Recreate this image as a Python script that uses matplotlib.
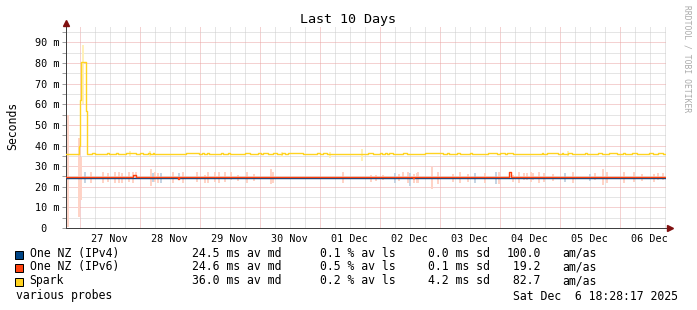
import matplotlib
matplotlib.use("Agg")
import matplotlib.pyplot as plt
import matplotlib.dates as mdates
from matplotlib.ticker import MultipleLocator, FuncFormatter
from matplotlib.patches import Rectangle
import pandas as pd

# ----------------------------------------------------------
# Data (hours since START, milliseconds)
# ----------------------------------------------------------

START = pd.Timestamp("2025-11-26 18:28:17")
END_TEXT = "Sat Dec  6 18:28:17 2025"

names = ["One NZ (IPv4)", "One NZ (IPv6)", "Spark"]
colors = ["#004586", "#ff420e", "#ffd320"]
smoke_colors = ["#c4d4e4", "#ffd3c6", "#fff1b8"]
av_md = [24.5, 24.6, 36.0]
av_ls = [0.1, 0.5, 0.2]
sd = [0.0, 0.1, 4.2]
am_as = [100.0, 19.2, 82.7]

ipv4_hours = [0, 240]
ipv4_ms = [24.25, 24.25]

ipv6_hours = [0, 26.8, 28.0, 44.6, 45.2, 138.6, 139.2, 177.2, 178.0, 240]
ipv6_ms = [24.75, 25.6, 24.75, 23.9, 24.75, 24.1, 24.75, 27.0, 24.75, 24.75]

spark_hours = [0, 5.2, 5.6, 6.2, 7.9, 8.3,
               10.4, 11.6, 16.4, 17.2, 20.0, 20.8, 24.0, 28.0, 29.6, 30.8,
               32.8, 33.6, 34.8, 35.2, 48.0, 53.2, 54.4, 55.2, 56.4, 57.2,
               62.0, 62.8, 64.8, 65.6, 71.6, 73.6, 76.8, 78.0, 78.8, 80.8,
               82.8, 84.4, 86.4, 87.6, 88.8, 94.8, 100.4, 101.6, 102.8, 104.4,
               120.8, 122.8, 125.6, 126.4, 127.6, 128.4, 129.2, 130.8, 134.8, 136.4,
               143.6, 150.8, 152.4, 153.2, 156.4, 157.6, 161.6, 162.4, 168.8, 172.4,
               173.6, 175.6, 176.4, 178.8, 190.4, 190.8, 192.4, 196.8, 198.4, 198.8,
               200.8, 202.4, 207.6, 208.4, 212.8, 214.4, 217.2, 220.4, 222.8, 223.6,
               226.4, 228.4, 233.2, 234.8, 236.8, 238.8, 240]
spark_ms = [36.0, 40.0, 62.0, 80.6, 57.0, 35.7,
            36.2, 35.7, 36.2, 35.7, 36.2, 35.7, 36.2, 35.7, 36.2, 35.7,
            36.2, 35.7, 36.2, 35.7, 36.2, 35.7, 36.2, 35.7, 36.2, 35.7,
            36.2, 35.7, 36.2, 35.7, 36.2, 35.7, 36.2, 35.7, 36.2, 35.7,
            36.2, 35.7, 36.2, 35.7, 36.2, 35.7, 36.2, 35.7, 36.2, 35.7,
            36.2, 35.7, 36.2, 35.7, 36.2, 35.7, 36.2, 35.7, 36.2, 35.7,
            36.2, 35.7, 36.2, 35.7, 36.2, 35.7, 36.2, 35.7, 36.2, 35.7,
            36.2, 35.7, 36.2, 35.7, 36.2, 35.7, 36.2, 35.7, 36.2, 35.7,
            36.2, 35.7, 36.2, 35.7, 36.2, 35.7, 36.2, 35.7, 36.2, 35.7,
            36.2, 35.7, 36.2, 35.7, 36.2, 35.7, 35.7]

# smoke (spread of pings) per series
ipv4_smoke_hours = [7.6, 34.8, 38.0, 45.2, 131.6, 137.6, 163.6, 172.0, 199.6, 209.6]
ipv4_smoke_lo = [21.7, 22.5, 21.7, 23.6, 21.7, 20.5, 22.0, 21.2, 22.5, 23.0]
ipv4_smoke_hi = [27.3, 26.5, 26.5, 26.5, 26.5, 26.5, 26.5, 27.3, 26.5, 26.1]

ipv6_smoke_hours = [0.8, 5.2, 6.2, 9.8, 14.8, 16.6, 19.4, 21.2, 22.4, 25.2,
                    26.8, 28.0, 34.0, 35.6, 36.8, 42.6, 46.8, 52.4, 55.6, 56.6,
                    59.6, 61.2, 63.6, 66.0, 68.8, 72.4, 75.2, 81.8, 82.6, 110.6,
                    122.0, 124.0, 126.6, 133.2, 134.8, 136.6, 139.2, 140.4, 140.8, 146.4,
                    148.8, 154.6, 157.6, 160.6, 167.6, 173.2, 178.6, 181.2, 183.2, 184.4,
                    186.0, 186.8, 189.2, 191.2, 194.8, 202.8, 211.6, 214.6, 216.4, 223.2,
                    227.2, 230.4, 235.2, 236.8, 238.8]
ipv6_smoke_lo = [0.5, 5.3, 13.6, 21.7, 21.8, 22.5, 22.0, 22.0, 22.0, 22.2,
                 22.0, 24.1, 20.5, 22.5, 22.0, 21.7, 21.7, 22.5, 21.7, 21.7,
                 22.2, 22.0, 22.2, 23.3, 23.0, 22.0, 23.0, 21.2, 22.0, 21.7,
                 22.5, 22.8, 23.3, 22.8, 23.6, 21.7, 21.7, 22.0, 21.7, 18.8,
                 21.2, 22.5, 22.0, 22.5, 21.7, 21.2, 22.5, 22.0, 23.3, 23.3,
                 22.5, 23.3, 22.0, 22.5, 23.0, 22.0, 23.3, 20.9, 22.0, 21.7,
                 22.5, 23.0, 22.5, 23.3, 23.3]
ipv6_smoke_hi = [55.0, 43.6, 34.5, 27.3, 27.0, 26.5, 27.0, 27.0, 26.5, 27.0,
                 27.0, 27.3, 28.5, 27.0, 26.5, 27.0, 27.3, 27.3, 25.7, 27.3,
                 27.0, 27.0, 27.0, 27.0, 25.7, 27.3, 26.1, 28.5, 27.0, 27.0,
                 25.7, 25.7, 25.7, 26.1, 27.0, 27.3, 26.1, 26.5, 27.0, 29.5,
                 27.3, 26.1, 27.0, 26.1, 26.5, 27.0, 25.7, 27.0, 26.5, 26.5,
                 27.0, 26.5, 27.0, 26.5, 26.1, 27.0, 26.5, 28.5, 27.0, 27.3,
                 27.0, 26.1, 26.1, 26.5, 26.5]

spark_smoke_hours = [6.6, 25.6, 33.6, 86.4, 105.6, 118.4, 200.8]
spark_smoke_lo = [60.0, 35.0, 34.5, 34.5, 34.0, 32.5, 35.0]
spark_smoke_hi = [89.0, 37.5, 37.5, 37.0, 37.0, 38.3, 37.2]

# ----------------------------------------------------------
# Style
# ----------------------------------------------------------

W, H = 697, 310
FONT = "DejaVu Sans Mono"
GRID = "#cccccc"
MGRID = "#eaa4a4"
AXIS = "#404040"
ARROW = "#801010"
PX = 0.72  # one pixel in points at dpi 100

plt.rcParams["font.family"] = FONT


def times(hours):
    return START + pd.to_timedelta(hours, unit="h")


def fx(px):
    return px / W


def fy(py):
    return 1 - py / H


fig = plt.figure(figsize=(W / 100, H / 100), dpi=100)
ax = fig.add_axes([fx(66), fy(228), 600 / W, 202 / H])

# ----------------------------------------------------------
# Smoke then median lines
# ----------------------------------------------------------

smoke = [
    (ipv4_smoke_hours, ipv4_smoke_lo, ipv4_smoke_hi),
    (ipv6_smoke_hours, ipv6_smoke_lo, ipv6_smoke_hi),
    (spark_smoke_hours, spark_smoke_lo, spark_smoke_hi),
]
for (hours, lo, hi), c in zip(smoke, smoke_colors):
    ax.vlines(times(hours), lo, hi, colors=c, linewidth=1.4, zorder=2)

series = [
    (ipv4_hours, ipv4_ms),
    (ipv6_hours, ipv6_ms),
    (spark_hours, spark_ms),
]
for (hours, ms), c in zip(series, colors):
    ax.plot(times(hours), ms, drawstyle="steps-post", color=c,
            linewidth=1.0, zorder=3)

# ----------------------------------------------------------
# Axes
# ----------------------------------------------------------

ax.set_xlim(times([0])[0], times([240])[0])
ax.set_ylim(0, 98)

ax.xaxis.set_major_locator(mdates.DayLocator())
ax.xaxis.set_major_formatter(FuncFormatter(lambda v, p: ""))
ax.xaxis.set_minor_locator(mdates.HourLocator(byhour=[0, 6, 12, 18]))
ax.xaxis.set_minor_formatter(FuncFormatter(
    lambda v, p: mdates.num2date(v).strftime("%d %b")
    if mdates.num2date(v).hour == 12 else ""))

ax.yaxis.set_major_locator(MultipleLocator(10))
ax.yaxis.set_minor_locator(MultipleLocator(5))
ax.yaxis.set_major_formatter(FuncFormatter(
    lambda v, p: " 0" if v == 0 else f"{int(v)} m"))

ax.tick_params(axis="x", which="both", length=0, pad=4.0,
               labelsize=7.3, labelcolor="black")
ax.tick_params(axis="y", which="both", length=3, width=PX,
               color="#a0a0a0", pad=19.5, labelsize=7.3)
for label in ax.get_yticklabels():
    label.set_horizontalalignment("left")

ax.grid(which="minor", color=GRID, linestyle=(0, (1, 1)), linewidth=PX)
ax.grid(which="major", color=MGRID, linestyle=(0, (1, 1)), linewidth=PX)
ax.set_axisbelow(True)

for side in ["top", "right"]:
    ax.spines[side].set_visible(False)
for side in ["left", "bottom"]:
    ax.spines[side].set_color(AXIS)
    ax.spines[side].set_linewidth(PX)

ax.plot([0], [1 + 3 / 202], marker="^", markersize=5, color=ARROW,
        transform=ax.transAxes, clip_on=False, zorder=5)
ax.plot([1 + 4 / 600], [0], marker=">", markersize=5, color=ARROW,
        transform=ax.transAxes, clip_on=False, zorder=5)

# ----------------------------------------------------------
# Texts and legend
# ----------------------------------------------------------

fig.text(0.5, fy(19), "Last 10 Days", ha="center", va="center", fontsize=9.6)
fig.text(fx(12.5), fy(126), "Seconds", ha="center", va="center",
         rotation=90, fontsize=8.3)
fig.text(fx(687), fy(59), "RRDTOOL / TOBI OETIKER", ha="center", va="center",
         rotation=-90, fontsize=5.8, color="#aaaaaa")

baselines = [256.8, 270.4, 284.0]
for i, y in enumerate(baselines):
    fig.add_artist(Rectangle((fx(15), fy(y + 1.8)), 8 / W, 8 / H,
                             transform=fig.transFigure, facecolor=colors[i],
                             edgecolor="black", linewidth=PX))
    fig.text(fx(29.5), fy(y), names[i], fontsize=8.3, va="baseline")
    fig.text(fx(192.5), fy(y), f"{av_md[i]:.1f} ms av md", fontsize=8.3,
             va="baseline")
    fig.text(fx(319.5), fy(y), f"{av_ls[i]:.1f} % av ls", fontsize=8.3,
             va="baseline")
    fig.text(fx(427.5), fy(y), f"{sd[i]:.1f} ms sd", fontsize=8.3,
             va="baseline")
    fig.text(fx(506.5), fy(y), f"{am_as[i]:5.1f}", fontsize=8.3,
             va="baseline")
    fig.text(fx(562.5), fy(y), "am/as", fontsize=8.3, va="baseline")

fig.text(fx(15.5), fy(299.5), "various probes", fontsize=8.3, va="baseline")
fig.text(fx(513), fy(299.5), END_TEXT, fontsize=8.3, va="baseline")

fig.savefig("out.png", dpi=100, facecolor="white")
